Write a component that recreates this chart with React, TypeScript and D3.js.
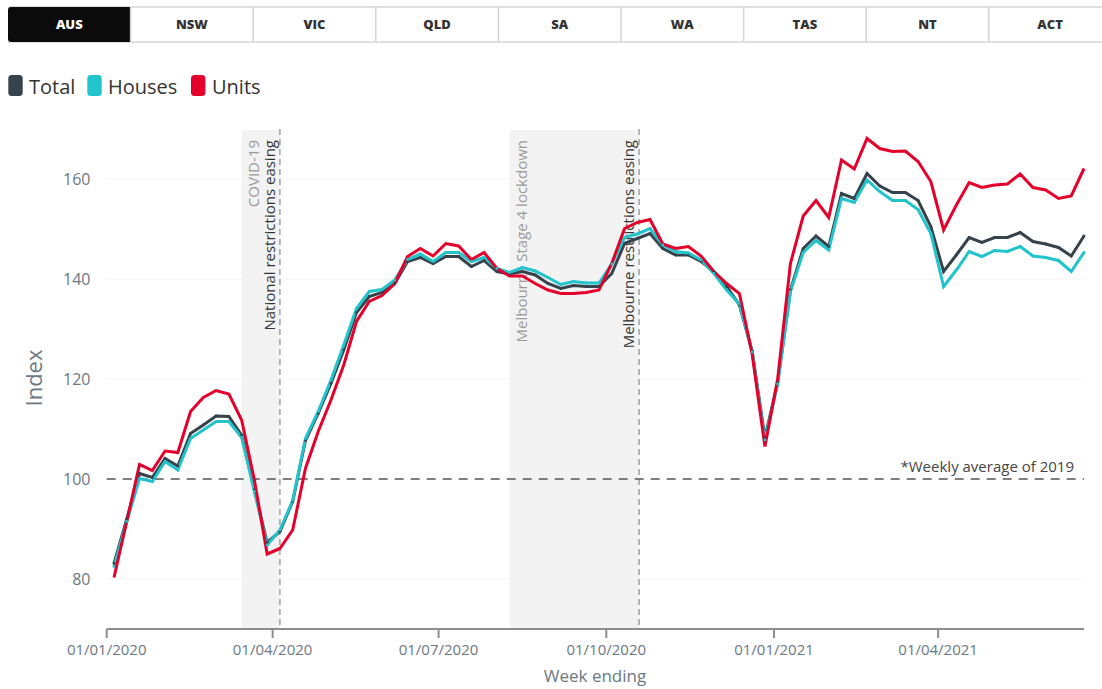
import React from 'react';
import * as d3 from 'd3';

// Region selector tabs
const regions = ['AUS', 'NSW', 'VIC', 'QLD', 'SA', 'WA', 'TAS', 'NT', 'ACT'];
const activeRegion = 'AUS';

// Weekly index (weekly average of 2019 = 100), week ending Sundays from 05/01/2020
const firstWeekEnding = '2020-01-05';

const totalIndex = [
  83.1, 92.0, 101.1, 100.3, 104.1, 102.6, 109.1, 110.8, 112.6, 112.5,
  108.8, 97.8, 87.3, 89.5, 95.5, 107.7, 113.1, 119.1, 125.8, 133.3,
  136.5, 137.3, 139.1, 143.5, 144.3, 143.1, 144.5, 144.5, 142.5, 143.7,
  141.5, 141.0, 141.5, 140.8, 139.1, 138.1, 138.7, 138.5, 138.5, 141.1,
  147.1, 148.1, 149.1, 146.1, 144.8, 144.8, 143.5, 141.5, 138.5, 134.8,
  125.6, 108.3, 119.3, 137.8, 146.1, 148.6, 146.5, 157.1, 156.1, 161.1,
  158.6, 157.3, 157.3, 155.7, 150.5, 141.5, 144.8, 148.3, 147.3, 148.3,
  148.3, 149.3, 147.5, 147.0, 146.3, 144.6, 148.6,
];

const housesIndex = [
  82.5, 91.5, 100.1, 99.5, 103.5, 101.8, 108.1, 109.8, 111.5, 111.5,
  108.3, 97.5, 86.8, 89.8, 95.7, 108.1, 113.5, 119.8, 126.8, 134.1,
  137.5, 137.9, 139.8, 143.9, 145.0, 143.5, 145.3, 145.3, 143.5, 144.3,
  142.1, 141.3, 142.3, 141.6, 140.3, 138.9, 139.5, 139.2, 139.2, 143.0,
  148.3, 149.0, 150.1, 146.8, 145.5, 145.2, 143.8, 141.1, 137.8, 135.0,
  125.4, 107.8, 119.0, 137.5, 145.3, 147.7, 145.8, 156.1, 155.3, 159.8,
  157.5, 155.7, 155.7, 153.9, 149.1, 138.5, 141.8, 145.5, 144.5, 145.7,
  145.5, 146.5, 144.6, 144.3, 143.7, 141.5, 145.3,
];

const unitsIndex = [
  80.3, 91.5, 102.9, 101.7, 105.6, 105.3, 113.5, 116.3, 117.7, 117.0,
  111.8, 99.8, 85.0, 86.1, 89.8, 102.1, 109.5, 115.8, 122.8, 131.5,
  135.5, 136.7, 139.1, 144.5, 146.1, 144.6, 147.1, 146.6, 143.9, 145.3,
  142.1, 140.6, 140.6, 139.1, 137.8, 137.1, 137.1, 137.3, 137.8, 143.1,
  150.1, 151.3, 151.9, 147.0, 146.1, 146.5, 144.6, 141.5, 139.1, 137.1,
  125.0, 106.5, 120.0, 143.1, 152.6, 155.7, 152.3, 163.8, 162.0, 168.1,
  166.1, 165.5, 165.6, 163.5, 159.5, 149.8, 154.8, 159.3, 158.3, 158.8,
  159.0, 161.0, 158.3, 157.8, 156.1, 156.6, 162.1,
];

const seriesNames = ['Total', 'Houses', 'Units'];
const seriesColors = ['#37434c', '#22c4cc', '#e4002b'];

const yTicks = [80, 100, 120, 140, 160];
const baselineValue = 100;
const baselineNote = '*Weekly average of 2019';

// Shaded periods and the restriction-easing marker at the end of each
const eventLabels = ['COVID-19', 'Melbourne Stage 4 lockdown'];
const eventStarts = ['2020-03-15', '2020-08-09'];
const eventEnds = ['2020-04-05', '2020-10-19'];
const easingLabels = ['National restrictions easing', 'Melbourne restrictions easing'];

const W = 1102;
const H = 689;
const FONT = "'Open Sans', 'Noto Sans', sans-serif";
const AXIS_TEXT = '#6c7884';

const parse = d3.utcParse('%Y-%m-%d');
const fmt = d3.utcFormat('%d/%m/%Y');

export default function App() {
  const start = parse(firstWeekEnding) as Date;
  const dates = totalIndex.map((_, i) => d3.utcDay.offset(start, 7 * i));
  const domainStart = d3.utcYear.floor(start);
  const domainEnd = dates[dates.length - 1];

  const x = d3.scaleUtc().domain([domainStart, domainEnd]).range([106.7, 1084]);
  const y = d3.scaleLinear().domain([70, 170]).range([629, 129]);

  const xTicks = d3.utcMonth.every(3)!.range(domainStart, d3.utcDay.offset(domainEnd, 1));

  const series = [totalIndex, housesIndex, unitsIndex];
  const line = d3
    .line<number>()
    .x((_, i) => x(dates[i]))
    .y((v) => y(v));

  const [x0, x1] = x.range();
  const plotTop = y(170);
  const plotBottom = y(70);

  // tabs
  const tabX0 = 8;
  const tabW = 122.6;
  const tabTop = 7;
  const tabH = 35;

  // legend layout
  const legendItems = [
    { sx: 8.3, tx: 29 },
    { sx: 87.3, tx: 108 },
    { sx: 191, tx: 212 },
  ];

  return (
    <svg
      width={W}
      height={H}
      style={{ position: 'absolute', left: 0, top: 0, display: 'block', background: '#fff' }}
      fontFamily={FONT}
    >
      {/* region tabs */}
      <g>
        <line x1={tabX0} x2={W} y1={tabTop} y2={tabTop} stroke="#d4d4d4" strokeWidth={1.5} />
        <line x1={tabX0} x2={W} y1={tabTop + tabH} y2={tabTop + tabH} stroke="#d4d4d4" strokeWidth={1.5} />
        {regions.map((r, i) => {
          const tx = tabX0 + i * tabW;
          const active = r === activeRegion;
          return (
            <g key={r}>
              {active ? (
                <path
                  d={`M${tx + 3},${tabTop} H${tx + tabW} V${tabTop + tabH} H${tx + 3} Q${tx},${tabTop + tabH} ${tx},${tabTop + tabH - 3} V${tabTop + 3} Q${tx},${tabTop} ${tx + 3},${tabTop} Z`}
                  fill="#0b0b0b"
                />
              ) : (
                <line x1={tx} x2={tx} y1={tabTop} y2={tabTop + tabH} stroke="#d4d4d4" strokeWidth={1.5} />
              )}
              <text
                x={tx + tabW / 2}
                y={tabTop + tabH / 2 + 4.5}
                textAnchor="middle"
                fontSize={13}
                fontWeight={800}
                fill={active ? '#ffffff' : '#333333'}
              >
                {r}
              </text>
            </g>
          );
        })}
      </g>

      {/* legend */}
      <g>
        {seriesNames.map((name, i) => (
          <g key={name}>
            <rect x={legendItems[i].sx} y={75} width={14.4} height={21} rx={3.5} fill={seriesColors[i]} />
            <text x={legendItems[i].tx} y={94} fontSize={20} fill="#333">
              {name}
            </text>
          </g>
        ))}
      </g>

      {/* shaded periods */}
      {eventStarts.map((s, i) => (
        <rect
          key={s}
          x={x(parse(s) as Date)}
          y={plotTop + 1}
          width={x(parse(eventEnds[i]) as Date) - x(parse(s) as Date)}
          height={plotBottom - plotTop - 1}
          fill="#f3f3f3"
        />
      ))}

      {/* grid lines */}
      {yTicks
        .filter((t) => t !== baselineValue)
        .map((t) => (
          <line key={t} x1={x0} x2={x1} y1={y(t)} y2={y(t)} stroke="#f3f3f3" strokeWidth={1} />
        ))}

      {/* easing markers */}
      {eventEnds.map((e) => (
        <line
          key={e}
          x1={x(parse(e) as Date)}
          x2={x(parse(e) as Date)}
          y1={plotTop}
          y2={plotBottom}
          stroke="#a0a0a0"
          strokeWidth={1.5}
          strokeDasharray="6,4"
        />
      ))}

      {/* event labels */}
      {eventLabels.map((lab, i) => {
        const sx = x(parse(eventStarts[i]) as Date) + 17.5;
        const ex = x(parse(eventEnds[i]) as Date) - 5;
        return (
          <g key={lab}>
            <text
              transform={`translate(${sx},140) rotate(-90)`}
              textAnchor="end"
              fontSize={15}
              fill="#9a9a9a"
            >
              {lab}
            </text>
            <text
              transform={`translate(${ex},140) rotate(-90)`}
              textAnchor="end"
              fontSize={15}
              fill="#333"
            >
              {easingLabels[i]}
            </text>
          </g>
        );
      })}

      {/* baseline */}
      <line
        x1={x0}
        x2={x1}
        y1={y(baselineValue)}
        y2={y(baselineValue)}
        stroke="#555"
        strokeWidth={1.5}
        strokeDasharray="9,7"
      />
      <text x={1074} y={472} textAnchor="end" fontSize={15} fill="#444">
        {baselineNote}
      </text>

      {/* y axis labels */}
      {yTicks.map((t) => (
        <text key={t} x={90.5} y={y(t) + 5.5} textAnchor="end" fontSize={16} fill={AXIS_TEXT}>
          {t}
        </text>
      ))}
      <text transform={`translate(41.5,378) rotate(-90)`} textAnchor="middle" fontSize={22} fill={AXIS_TEXT}>
        Index
      </text>

      {/* x axis */}
      <line x1={x0} x2={x1} y1={plotBottom} y2={plotBottom} stroke="#8d8d8d" strokeWidth={2} />
      {xTicks.map((t) => (
        <g key={+t}>
          <line x1={x(t)} x2={x(t)} y1={plotBottom} y2={plotBottom + 9} stroke="#8d8d8d" strokeWidth={2} />
          <text x={x(t)} y={655} textAnchor="middle" fontSize={15} fill={AXIS_TEXT}>
            {fmt(t)}
          </text>
        </g>
      ))}
      <text x={595} y={682} textAnchor="middle" fontSize={17} fill={AXIS_TEXT}>
        Week ending
      </text>

      {/* series lines */}
      {series.map((vals, i) => (
        <path
          key={seriesNames[i]}
          d={line(vals) || ''}
          fill="none"
          stroke={seriesColors[i]}
          strokeWidth={3}
          strokeLinejoin="miter"
        />
      ))}

      {/* point markers */}
      {series.slice(0, 2).map((vals, i) => (
        <g key={`m-${seriesNames[i]}`}>
          {vals.map((v, j) => (
            <circle key={j} cx={x(dates[j])} cy={y(v)} r={1.4} fill={seriesColors[i]} />
          ))}
        </g>
      ))}
    </svg>
  );
}
